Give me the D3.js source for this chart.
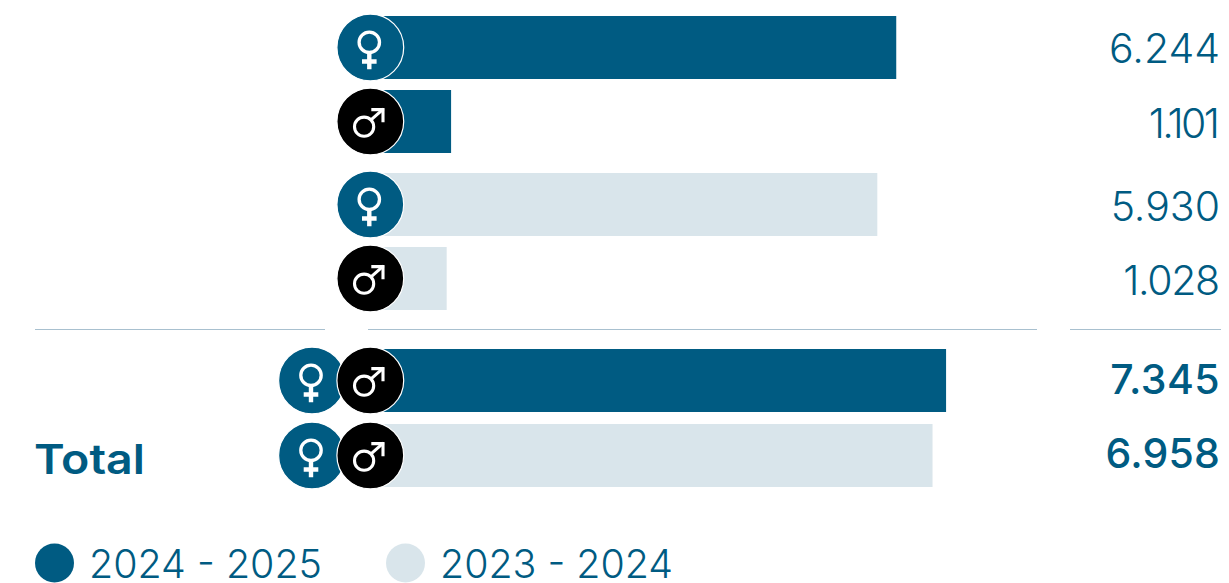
<!DOCTYPE html>
<html>
<head>
<meta charset="utf-8">
<script src="https://cdn.jsdelivr.net/npm/d3@7/dist/d3.min.js"></script>
<style>
html,body{margin:0;padding:0;background:#fff;overflow:hidden}
svg{display:block}
text{font-family:Inter,"Open Sans",sans-serif}
</style>
</head>
<body>
<svg id="chart" width="1229" height="583"></svg>
<script>
// Enrolment counts per row: season, gender group, value
const rowIds = ["f25", "m25", "f24", "m24", "t25", "t24"];
const seasons = ["2024 - 2025", "2024 - 2025", "2023 - 2024", "2023 - 2024", "2024 - 2025", "2023 - 2024"];
const groups = ["f", "m", "f", "m", "t", "t"];
const values = [6244, 1101, 5930, 1028, 7345, 6958];
const legendLabels = ["2024 - 2025", "2023 - 2024"];
const totalLabel = "Total";

const BLUE = "#005b82", PALE = "#d9e5eb", RULE = "#a8c0cf";
const svg = d3.select("#chart");

const fmt = d3.formatLocale({decimal: ",", thousands: ".", grouping: [3], currency: ["", ""]}).format(",");
const colour = d3.scaleOrdinal(legendLabels, [BLUE, PALE]);

// The bar axis is compressed towards the high end, so it is a multi-segment scale
const x = d3.scaleLinear()
  .domain([1000, 1100, 6000, 6900, 7400])
  .range([445, 451, 883.5, 930.5, 948]);
const barStart = 370;
const barH = 63;

// Rows are grouped: tops are spaced unevenly around the divider
const y = d3.scaleOrdinal(rowIds, [16, 90, 173, 247, 349, 424]);
const baselineShift = d3.scaleOrdinal(rowIds, [15, 16, 16, 16.5, 13.5, 12.5]);
// Tracking keeps the wide-set "1" figures tight
const tracking = d3.scaleOrdinal(rowIds, [0, -2.6, 0, -1.4, 0.4, 0.2]);

const rows = rowIds.map((id, i) => ({id, season: seasons[i], group: groups[i], value: values[i]}));

// Bars
svg.append("g").selectAll("rect").data(rows).join("rect")
  .attr("x", barStart)
  .attr("y", d => y(d.id))
  .attr("width", d => x(d.value) - barStart)
  .attr("height", barH)
  .attr("fill", d => colour(d.season));

// Divider segments
const ruleSegments = [[35, 325], [368, 1037], [1070, 1221]];
svg.append("g").selectAll("line").data(ruleSegments).join("line")
  .attr("x1", d => d[0]).attr("x2", d => d[1])
  .attr("y1", 329.5).attr("y2", 329.5)
  .attr("stroke", RULE).attr("stroke-width", 1);

// Gender badges
function badge(cx, cy, kind) {
  const g = svg.append("g").attr("transform", `translate(${cx},${cy})`);
  g.append("circle").attr("r", 33.4)
    .attr("fill", kind === "f" ? BLUE : "#000")
    .attr("stroke", "#fff").attr("stroke-width", 1.2);
  const mark = g.append("g").attr("fill", "none").attr("stroke", "#fff");
  if (kind === "f") {
    mark.append("circle").attr("cx", -1).attr("cy", -5.2).attr("r", 10.2).attr("stroke-width", 3.3);
    mark.append("path").attr("stroke-width", 4.4)
      .attr("d", "M-1,6V21.7M-8.3,14H6.3");
  } else {
    mark.append("circle").attr("cx", -6.2).attr("cy", 5.2).attr("r", 9.6).attr("stroke-width", 3.1);
    mark.append("path").attr("stroke-width", 3.1)
      .attr("d", "M0.7,-1.6L13.2,-12.6");
    mark.append("path").attr("stroke-width", 3.1)
      .attr("d", "M1,-11.9H12.7V0.8");
  }
}
const BADGE_X = 370.3, BADGE_X_BACK = 312;
rows.forEach(d => {
  const cy = y(d.id) + barH / 2;
  if (d.group === "t") {
    badge(BADGE_X_BACK, cy, "f");
    badge(BADGE_X, cy, "m");
  } else {
    badge(BADGE_X, cy, d.group);
  }
});

// Value labels
svg.append("g").selectAll("text").data(rows).join("text")
  .attr("x", d => 1220 + Math.min(tracking(d.id), 0))
  .attr("y", d => y(d.id) + barH / 2 + baselineShift(d.id))
  .attr("text-anchor", "end")
  .attr("fill", BLUE)
  .attr("font-size", 41)
  .attr("font-weight", d => d.group === "t" ? 500 : 300)
  .attr("letter-spacing", d => tracking(d.id))
  .text(d => fmt(d.value));

// Row title for the totals
svg.append("text").attr("x", 34).attr("y", 474)
  .attr("fill", BLUE).attr("font-size", 41).attr("font-weight", 600)
  .attr("textLength", 111).attr("lengthAdjust", "spacingAndGlyphs")
  .text(totalLabel);

// Legend
const legendX = d3.scaleOrdinal(legendLabels, [35, 386]);
const legend = svg.append("g").selectAll("g").data(legendLabels).join("g")
  .attr("transform", d => `translate(${legendX(d)},563)`);
legend.append("circle").attr("cx", 19.5).attr("r", 19.5).attr("fill", d => colour(d));
legend.append("text").attr("x", 54).attr("y", 15)
  .attr("fill", BLUE).attr("font-size", 40).attr("font-weight", 300)
  .attr("textLength", 233).attr("lengthAdjust", "spacingAndGlyphs")
  .text(d => d);
</script>
</body>
</html>
